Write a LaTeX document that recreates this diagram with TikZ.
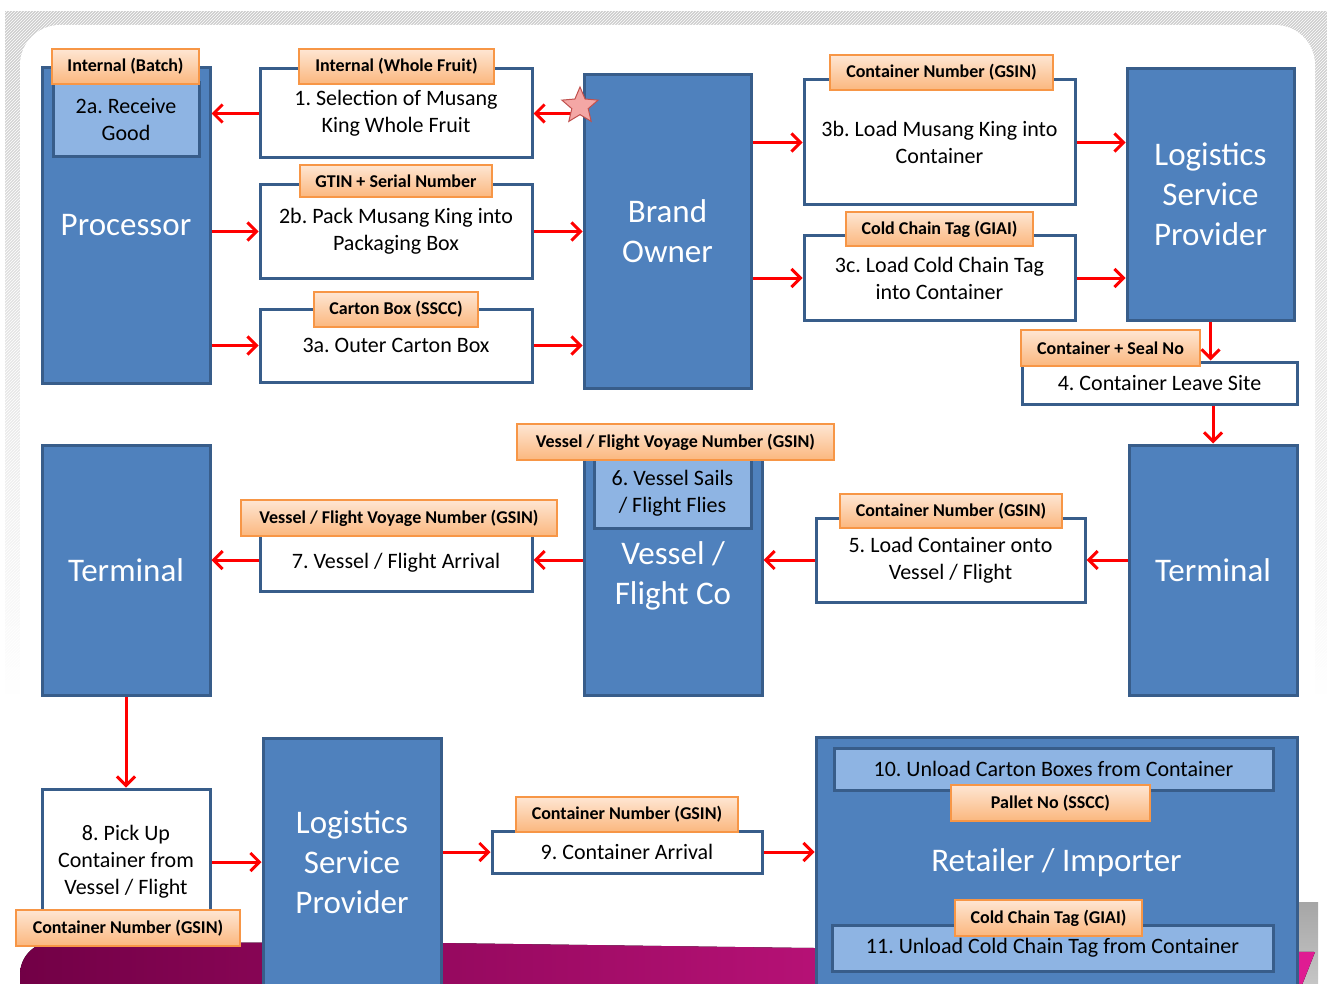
\documentclass[tikz,border=0pt]{standalone}
\usepackage{fontspec}
\setmainfont{Carlito}
\frenchspacing
\usetikzlibrary{arrows.meta,shapes.geometric,patterns}

\definecolor{boxblue}{HTML}{4F81BD}
\definecolor{boxline}{HTML}{385D8A}
\definecolor{paleblue}{HTML}{8EB4E3}
\definecolor{tagtop}{HTML}{FEE6D3}
\definecolor{tagbot}{HTML}{FBB77E}
\definecolor{tagline}{HTML}{F79646}
\definecolor{flowred}{HTML}{FF0000}
\definecolor{starpink}{HTML}{F4A7A5}
\definecolor{starline}{HTML}{C0504D}
\definecolor{wineleft}{HTML}{720046}
\definecolor{wineright}{HTML}{E01C93}

\tikzstyle{party} = [rectangle, draw=boxline, line width=3pt, fill=boxblue, text=white, align=center, inner sep=0pt, font=\fontsize{33}{40}\selectfont]
\tikzstyle{task} = [rectangle, draw=boxline, line width=3pt, fill=white, align=center, inner sep=0pt, font=\fontsize{22}{27}\selectfont]
\tikzstyle{subtask} = [task, fill=paleblue]
\tikzstyle{tag} = [rectangle, draw=tagline, line width=1.5pt, top color=tagtop, bottom color=tagbot, inner sep=0pt, font=\fontsize{18}{20}\selectfont\bfseries]
\tikzstyle{flow} = [draw=flowred, line width=3pt, -{Straight Barb[length=9pt,width=18pt]}]

\begin{document}
\begin{tikzpicture}[x=1pt, y=-1pt]
\useasboundingbox (0,0) rectangle (1327,984);
\clip (0,0) rectangle (1327,984);

% slide background
\fill[top color=gray!40, bottom color=white] (5,12) rectangle (1327,700);
\fill[pattern=north east lines, pattern color=white] (5,12) rectangle (1327,700);
\fill[white, rounded corners=40pt] (20,25) rectangle (1315,1040);
\fill[top color=gray!70, bottom color=gray!45] (1298,902) rectangle (1318,984);
\fill[left color=wineleft, right color=wineright]
    (20,990) -- (20,975) [rounded corners=30pt] -- (22,942) -- (440,943) -- (810,948) [sharp corners] -- (1315,952) -- (1300,990) -- cycle;

% parties
\node[party, minimum width=168pt, minimum height=315pt] (proc) at (126,225.5) {Processor};
\node[party, minimum width=167pt, minimum height=313pt] (owner) at (667.5,231.5) {Brand\\Owner};
\node[party, minimum width=167pt, minimum height=251pt] (lspa) at (1210.5,194.5) {Logistics\\Service\\Provider};
\node[party, minimum width=168pt, minimum height=250pt] (termr) at (1213,570) {Terminal};
\node[party, minimum width=178pt, minimum height=239pt] (vessel) at (673,575.5) {Vessel /\\Flight Co};
\node[party, minimum width=168pt, minimum height=250pt] (terml) at (126,570) {Terminal};
\node[party, minimum width=178pt, minimum height=248pt] (lspb) at (352,862) {Logistics\\Service\\Provider};
\node[party, minimum width=481pt, minimum height=252pt] (retail) at (1056.5,863) {Retailer / Importer};

% steps
\node[subtask, minimum width=146pt, minimum height=74pt] (s2a) at (126,120) {2a. Receive\\Good};
\node[task, minimum width=272pt, minimum height=89pt] (s1) at (396,113.5) {1. Selection of Musang\\King Whole Fruit};
\node[task, minimum width=272pt, minimum height=93pt] (s2b) at (396,231.5) {2b. Pack Musang King into\\Packaging Box};
\node[task, minimum width=272pt, minimum height=73pt] (s3a) at (396,345.5) {3a. Outer Carton Box};
\node[task, minimum width=271pt, minimum height=125pt] (s3b) at (939.5,142.5) {3b. Load Musang King into\\Container};
\node[task, minimum width=271pt, minimum height=84pt] (s3c) at (939.5,278) {3c. Load Cold Chain Tag\\into Container};
\node[task, minimum width=275pt, minimum height=42pt] (s4) at (1159.5,383) {4. Container Leave Site};
\node[task, minimum width=269pt, minimum height=84pt] (s5) at (950.5,560) {5. Load Container onto\\Vessel / Flight};
\node[subtask, minimum width=157pt, minimum height=70pt] (s6) at (672.5,493) {6. Vessel Sails\\/ Flight Flies};
\node[task, minimum width=272pt, minimum height=56pt] (s7) at (396,563) {7. Vessel / Flight Arrival};
\node[task, minimum width=168pt, minimum height=146pt] (s8) at (126,862) {8. Pick Up\\Container from\\Vessel / Flight};
\node[task, minimum width=270pt, minimum height=42pt] (s9) at (627,852) {9. Container Arrival};
\node[subtask, minimum width=439pt, minimum height=42pt] (s10) at (1053.5,769) {10. Unload Carton Boxes from Container};
\node[subtask, minimum width=441pt, minimum height=46pt] (s11) at (1052.5,948) {11. Unload Cold Chain Tag from Container};

% identifiers
\node[tag, minimum width=147pt, minimum height=35pt] (t2a) at (125.5,66.5) {Internal (Batch)};
\node[tag, minimum width=195pt, minimum height=35pt] (t1) at (396.5,66.5) {Internal (Whole Fruit)};
\node[tag, minimum width=192pt, minimum height=32pt] (t2b) at (396,181) {GTIN + Serial Number};
\node[tag, minimum width=164pt, minimum height=35pt] (t3a) at (396,309.5) {Carton Box (SSCC)};
\node[tag, minimum width=223pt, minimum height=35pt] (t3b) at (941.5,72.5) {Container Number (GSIN)};
\node[tag, minimum width=187pt, minimum height=34pt] (t3c) at (939.5,229) {Cold Chain Tag (GIAI)};
\node[tag, minimum width=179pt, minimum height=36pt] (t4) at (1110.5,348) {Container + Seal No};
\node[tag, minimum width=222pt, minimum height=34pt] (t5) at (951,511) {Container Number (GSIN)};
\node[tag, minimum width=317pt, minimum height=36pt] (t6) at (675.5,442) {Vessel / Flight Voyage Number (GSIN)};
\node[tag, minimum width=316pt, minimum height=36pt] (t7) at (399,518) {Vessel / Flight Voyage Number (GSIN)};
\node[tag, minimum width=224pt, minimum height=36pt] (t8) at (128,928) {Container Number (GSIN)};
\node[tag, minimum width=222pt, minimum height=35pt] (t9) at (627,814.5) {Container Number (GSIN)};
\node[tag, minimum width=199pt, minimum height=36pt] (t10) at (1050.5,803) {Pallet No (SSCC)};
\node[tag, minimum width=187pt, minimum height=36pt] (t11) at (1048.5,918) {Cold Chain Tag (GIAI)};

% flows
\draw[flow] (s1.west) -- (proc.east |- s1.west);
\draw[flow] (owner.west |- s1.east) -- (s1.east);
\draw[flow] (proc.east |- s2b.west) -- (s2b.west);
\draw[flow] (proc.east |- s3a.west) -- (s3a.west);
\draw[flow] (s2b.east) -- (owner.west |- s2b.east);
\draw[flow] (s3a.east) -- (owner.west |- s3a.east);
\draw[flow] (owner.east |- s3b.west) -- (s3b.west);
\draw[flow] (owner.east |- s3c.west) -- (s3c.west);
\draw[flow] (s3b.east) -- (lspa.west |- s3b.east);
\draw[flow] (s3c.east) -- (lspa.west |- s3c.east);
\draw[flow] (lspa.south) -- (lspa.south |- s4.north);
\draw[flow] (termr.north |- s4.south) -- (termr.north);
\draw[flow] (termr.west |- s5.east) -- (s5.east);
\draw[flow] (s5.west) -- (vessel.east |- s5.west);
\draw[flow] (vessel.west |- s5.west) -- (s7.east |- s5.west);
\draw[flow] (s7.west |- s5.west) -- (terml.east |- s5.west);
\draw[flow] (terml.south) -- (s8.north);
\draw[flow] (s8.east) -- (lspb.west |- s8.east);
\draw[flow] (lspb.east |- s9.west) -- (s9.west);
\draw[flow] (s9.east) -- (retail.west |- s9.east);

\node[star, star points=5, star point ratio=2.2, draw=starline, fill=starpink, line width=1pt, minimum size=38pt, inner sep=0pt] (mark) at (580,106) {};
\end{tikzpicture}
\end{document}
